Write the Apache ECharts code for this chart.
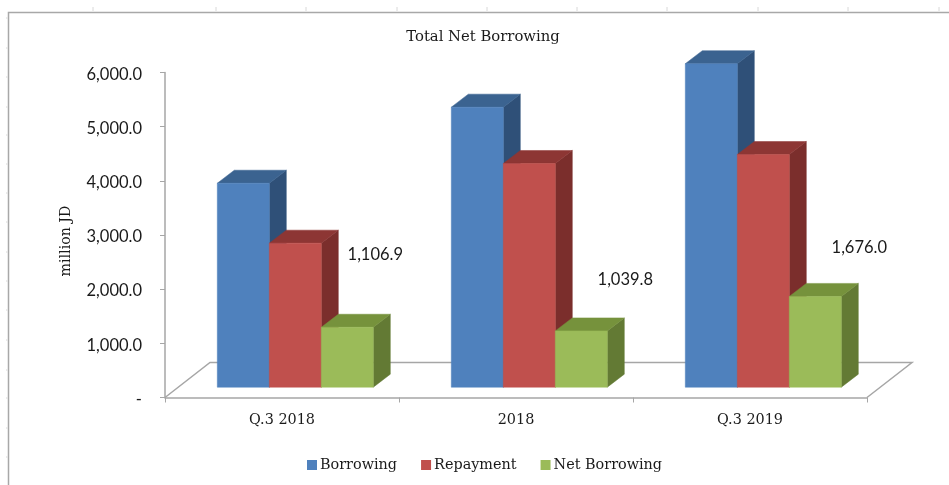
<!DOCTYPE html>
<html><head><meta charset="utf-8">
<style>html,body{margin:0;padding:0;background:#fff}#c{width:949px;height:485px}</style>
<script src="https://cdn.jsdelivr.net/npm/echarts@6/dist/echarts.min.js"></script>
</head><body><div id="c"></div>
<script>
const categories = ['Q.3 2018', '2018', 'Q.3 2019'];
const borrowing = [3766, 5170, 5972];
const repayment = [2659, 4130, 4296];
const netBorrowing = [1106.9, 1039.8, 1676.0];
const yTicks = {min: 0, max: 6000, interval: 1000};
const titleText = 'Total Net Borrowing';
const yName = 'million JD';
// hand-moved label offsets from each Net Borrowing bar's top right corner (pixels, styling only)
const labelShift = [[2, 73], [18, 51], [18, 49]];

const SERIF = '"DejaVu Serif"';
const SANS = 'Lato';
const FLOOR = {dx: 45, dy: -35};
const FRONT = {dx: 13.3, dy: -10.3};
const DEPTH = {dx: 17, dy: -13};
const BAR_SHARE = 52 / 234;

function poly(points, fill) {
  return {type: 'polygon', shape: {points}, style: {fill, stroke: fill, lineWidth: 0.5}};
}
function barRenderer(slot, colors, withLabel) {
  return function (params, api) {
    const i = api.value(0), v = api.value(1);
    const base = api.coord([i, 0]), top = api.coord([i, v]);
    const w = api.size([1, 0])[0] * BAR_SHARE;
    const x0 = base[0] + FRONT.dx + slot * w - w / 2, x1 = x0 + w;
    const yb = base[1] + FRONT.dy, yt = top[1] + FRONT.dy;
    const dx = DEPTH.dx, dy = DEPTH.dy;
    const children = [
      poly([[x1, yb], [x1 + dx, yb + dy], [x1 + dx, yt + dy], [x1, yt]], colors[2]),
      poly([[x0, yt], [x1, yt], [x1 + dx, yt + dy], [x0 + dx, yt + dy]], colors[1]),
      poly([[x0, yb], [x1, yb], [x1, yt], [x0, yt]], colors[0])
    ];
    if (withLabel) {
      const off = labelShift[params.dataIndex];
      children.push({
        type: 'text',
        style: {
          x: x1 + off[0], y: yt - off[1],
          text: v.toLocaleString('en-US', {minimumFractionDigits: 1, maximumFractionDigits: 1}),
          fill: '#1a1a1a', font: '16.5px ' + SANS, textAlign: 'center', textVerticalAlign: 'middle'
        }
      });
    }
    return {type: 'group', children};
  };
}
function floorRenderer(params, api) {
  const band = api.size([1, 0])[0];
  const first = api.coord([0, 0]), last = api.coord([categories.length - 1, 0]);
  const a = [first[0] - band / 2, first[1]], b = [last[0] + band / 2, last[1]];
  return {
    type: 'polyline',
    shape: {points: [a, [a[0] + FLOOR.dx, a[1] + FLOOR.dy], [b[0] + FLOOR.dx, b[1] + FLOOR.dy], b]},
    style: {fill: null, stroke: '#a6a6a6', lineWidth: 1.5}
  };
}
const pairs = arr => arr.map((v, i) => [i, v]);
const frameTicksTop = [93, 216, 306, 397, 487, 577, 667, 758, 848, 939];
const frameTicksLeft = [18, 48, 77, 107, 135, 164, 193, 222, 252, 281, 310, 340, 370, 398, 428, 457];
const frame = [
  {type: 'polyline', shape: {points: [[8.5, 485], [8.5, 12.5], [949, 12.5]]}, style: {fill: null, stroke: '#a8a8a8', lineWidth: 1.5}},
  ...frameTicksTop.map(x => ({type: 'line', shape: {x1: x, y1: 7, x2: x, y2: 11}, style: {stroke: '#d8d8d8', lineWidth: 1}})),
  ...frameTicksLeft.map(y => ({type: 'line', shape: {x1: 6, y1: y, x2: 7.5, y2: y}, style: {stroke: '#d8d8d8', lineWidth: 1}}))
];
const chart = echarts.init(document.getElementById('c'));
chart.setOption({
  animation: false,
  backgroundColor: '#fff',
  title: {text: titleText, left: 478, top: 25, textAlign: 'center',
    textStyle: {fontFamily: SERIF, fontSize: 14.8, fontWeight: 'normal', color: '#1a1a1a'}},
  legend: {
    data: ['Borrowing', 'Repayment', 'Net Borrowing'],
    left: 302, top: 453, icon: 'rect', itemWidth: 10, itemHeight: 10, itemGap: 24,
    textStyle: {fontFamily: SERIF, fontSize: 14.4, color: '#1a1a1a', padding: [0, 0, 0, -2]}
  },
  grid: {left: 165, right: 82, top: 72.5, bottom: 87.5, containLabel: false},
  xAxis: {
    type: 'category', data: categories,
    axisLine: {lineStyle: {color: '#a6a6a6', width: 1.5}},
    axisTick: {show: true, length: 5, lineStyle: {color: '#a6a6a6', width: 1}},
    axisLabel: {fontFamily: SERIF, fontSize: 14.4, color: '#1a1a1a', margin: 16}
  },
  yAxis: {
    type: 'value', min: yTicks.min, max: yTicks.max, interval: yTicks.interval,
    name: yName, nameLocation: 'middle', nameGap: 92, nameRotate: 90,
    nameTextStyle: {fontFamily: SERIF, fontSize: 14.2, color: '#1a1a1a', padding: [0, 12, 0, 0]},
    axisLine: {show: true, lineStyle: {color: '#a6a6a6', width: 1.5}},
    axisTick: {show: true, length: 5, lineStyle: {color: '#a6a6a6', width: 1}},
    splitLine: {show: false},
    axisLabel: {fontFamily: SANS, fontSize: 16.5, color: '#1a1a1a', margin: 23, verticalAlign: 'top', lineHeight: 4,
      formatter: v => v === 0 ? '-' : v.toLocaleString('en-US', {minimumFractionDigits: 1, maximumFractionDigits: 1})}
  },
  graphic: frame,
  series: [
    {type: 'custom', name: 'floor', silent: true, data: [[0, 0]], renderItem: floorRenderer, encode: {x: 0, y: 1}, z: 1},
    {type: 'custom', name: 'Borrowing', data: pairs(borrowing), encode: {x: 0, y: 1}, itemStyle: {color: '#4f81bd'}, z: 2,
      renderItem: barRenderer(-1, ['#4f81bd', '#3b6390', '#2f5078'], false)},
    {type: 'custom', name: 'Repayment', data: pairs(repayment), encode: {x: 0, y: 1}, itemStyle: {color: '#c0504d'}, z: 3,
      renderItem: barRenderer(0, ['#c0504d', '#8d3634', '#7b2e2c'], false)},
    {type: 'custom', name: 'Net Borrowing', data: pairs(netBorrowing), encode: {x: 0, y: 1}, itemStyle: {color: '#9bbb59'}, z: 4,
      renderItem: barRenderer(1, ['#9bbb59', '#76923c', '#637a34'], true)}
  ]
});
</script></body></html>
